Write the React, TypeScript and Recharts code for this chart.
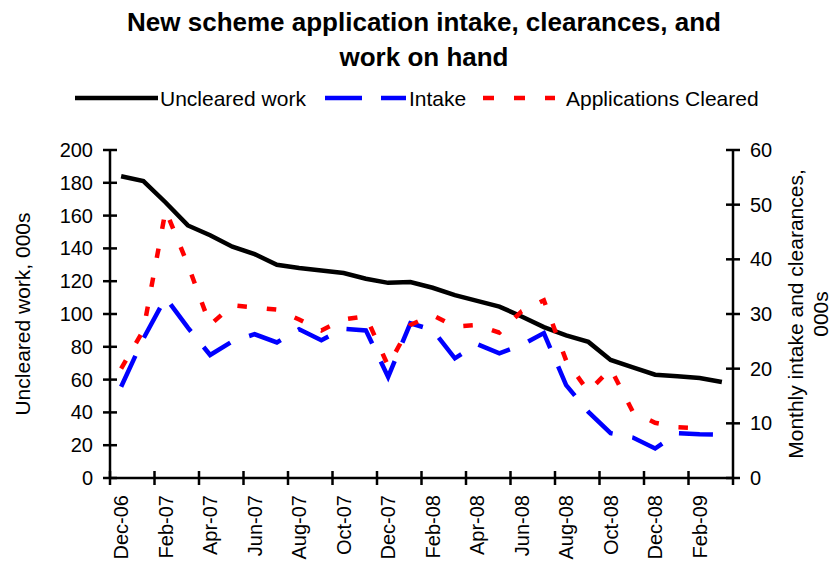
import { LineChart, Line, XAxis, YAxis } from 'recharts';

const months = [
  'Dec-06', 'Jan-07', 'Feb-07', 'Mar-07', 'Apr-07', 'May-07', 'Jun-07', 'Jul-07',
  'Aug-07', 'Sep-07', 'Oct-07', 'Nov-07', 'Dec-07', 'Jan-08', 'Feb-08', 'Mar-08',
  'Apr-08', 'May-08', 'Jun-08', 'Jul-08', 'Aug-08', 'Sep-08', 'Oct-08', 'Nov-08',
  'Dec-08', 'Jan-09', 'Feb-09', 'Mar-09',
];

// 000s, left axis
const uncleared = [
  184, 181, 168, 154, 148, 141, 136.5, 130, 128, 126.5, 125, 121.5, 119, 119.5,
  116, 111.5, 108, 104.5, 98.5, 92, 87, 83, 72, 67.5, 63, 62, 61, 58.5,
];

// 000s, right axis
const intake = [
  16.7, 25.5, 33, 27.5, 22.5, 25, 26.3, 24.8, 27.2, 25.2, 27.3, 27, 18.5, 28.3,
  27.1, 21.9, 24.5, 22.8, 24.3, 26.5, 17, 12.1, 8.2, 7.4, 5.4, 8.2, 8, 7.9,
];

const cleared = [
  20, 27, 49, 39, 28, 31.6, 31.2, 30.8, 29, 27, 29, 29.6, 20.5, 28,
  29.8, 27.7, 28, 26.6, 30.5, 32.5, 21.5, 15.8, 20, 12.1, 10.1, 9.3, 9.1, null,
];

const leftTicks = [0, 20, 40, 60, 80, 100, 120, 140, 160, 180, 200];
const rightTicks = [0, 10, 20, 30, 40, 50, 60];

const data = months.map((m, i) => ({
  month: m,
  uncleared: uncleared[i],
  intake: intake[i],
  cleared: cleared[i],
}));

const W = 840;
const H = 561;
const PLOT_L = 110;
const PLOT_R = 733;
const PLOT_T = 150;
const PLOT_B = 478;
const HALF = (PLOT_R - PLOT_L) / months.length / 2;
const FONT = '"Liberation Sans", Arial, sans-serif';
const AXIS_W = 2.5;

const XTick = ({ x, y, payload }: any) => (
  <g>
    <line x1={x - HALF} x2={x - HALF} y1={PLOT_B - 7} y2={PLOT_B + 7} stroke="#000" strokeWidth={AXIS_W} />
    {payload.index === months.length - 2 && (
      <line x1={PLOT_R} x2={PLOT_R} y1={PLOT_B} y2={PLOT_B + 7} stroke="#000" strokeWidth={AXIS_W} />
    )}
    <text
      transform={`translate(${x},${y}) rotate(-90)`}
      textAnchor="end"
      dominantBaseline="central"
      fontSize={20}
      fontFamily={FONT}
      fill="#000"
    >
      {payload.value}
    </text>
  </g>
);

const LeftTick = ({ x, y, payload }: any) => (
  <g>
    <line x1={PLOT_L - 7} x2={PLOT_L + 7} y1={y} y2={y} stroke="#000" strokeWidth={AXIS_W} />
    <text x={x} y={y} textAnchor="end" dominantBaseline="central" fontSize={20} fontFamily={FONT} fill="#000">
      {payload.value}
    </text>
  </g>
);

const RightTick = ({ x, y, payload }: any) => (
  <g>
    <line x1={PLOT_R - 7} x2={PLOT_R + 7} y1={y} y2={y} stroke="#000" strokeWidth={AXIS_W} />
    <text x={x} y={y} textAnchor="start" dominantBaseline="central" fontSize={20} fontFamily={FONT} fill="#000">
      {payload.value}
    </text>
  </g>
);

export default function App() {
  return (
    <div style={{ position: 'absolute', left: 0, top: 0, width: W, height: H, background: '#fff' }}>
      <LineChart width={W} height={H} data={data} margin={{ top: PLOT_T, right: 0, bottom: 0, left: 0 }}>
        <XAxis
          dataKey="month"
          height={H - PLOT_B}
          padding={{ left: HALF, right: HALF }}
          interval={1}
          tickSize={7}
          tickMargin={10}
          tickLine={false}
          axisLine={{ stroke: '#000', strokeWidth: AXIS_W }}
          tick={<XTick />}
        />
        <YAxis
          yAxisId="left"
          width={PLOT_L}
          domain={[0, 200]}
          ticks={leftTicks}
          tickSize={7}
          tickMargin={10}
          tickLine={false}
          axisLine={{ stroke: '#000', strokeWidth: AXIS_W }}
          tick={<LeftTick />}
        />
        <YAxis
          yAxisId="right"
          orientation="right"
          width={W - PLOT_R}
          domain={[0, 60]}
          ticks={rightTicks}
          tickSize={7}
          tickMargin={10}
          tickLine={false}
          axisLine={{ stroke: '#000', strokeWidth: AXIS_W }}
          tick={<RightTick />}
        />
        <Line
          yAxisId="left"
          type="linear"
          dataKey="uncleared"
          stroke="#000"
          strokeWidth={4.5}
          dot={false}
          isAnimationActive={false}
        />
        <Line
          yAxisId="right"
          type="linear"
          dataKey="intake"
          stroke="#0000FF"
          strokeWidth={4.5}
          strokeDasharray="34 20"
          dot={false}
          isAnimationActive={false}
        />
        <Line
          yAxisId="right"
          type="linear"
          dataKey="cleared"
          stroke="#FF0000"
          strokeWidth={4.5}
          strokeDasharray="9.5 20"
          dot={false}
          isAnimationActive={false}
        />
      </LineChart>

      {/* title, legend and axis titles */}
      <svg
        width={W}
        height={H}
        style={{ position: 'absolute', left: 0, top: 0, pointerEvents: 'none' }}
        fontFamily={FONT}
      >
        <text x={424} y={31} textAnchor="middle" fontSize={26} fontWeight="bold">
          New scheme application intake, clearances, and
        </text>
        <text x={424} y={66} textAnchor="middle" fontSize={26} fontWeight="bold">
          work on hand
        </text>

        <line x1={75} x2={158} y1={98} y2={98} stroke="#000" strokeWidth={4.5} />
        <text x={160} y={106} fontSize={21}>Uncleared work</text>
        <line x1={325} x2={406} y1={98} y2={98} stroke="#0000FF" strokeWidth={4.5} strokeDasharray="37 19" />
        <text x={409} y={106} fontSize={21}>Intake</text>
        <line x1={483} x2={555} y1={98} y2={98} stroke="#FF0000" strokeWidth={4.5} strokeDasharray="11 20" />
        <text x={566} y={106} fontSize={21}>Applications Cleared</text>

        <text
          transform={`translate(22,${(PLOT_T + PLOT_B) / 2}) rotate(-90)`}
          textAnchor="middle"
          dominantBaseline="central"
          fontSize={21}
        >
          Uncleared work, 000s
        </text>
        <text
          transform={`translate(795,${(PLOT_T + PLOT_B) / 2}) rotate(-90)`}
          textAnchor="middle"
          dominantBaseline="central"
          fontSize={21}
        >
          Monthly intake and clearances,
        </text>
        <text
          transform={`translate(820,${(PLOT_T + PLOT_B) / 2}) rotate(-90)`}
          textAnchor="middle"
          dominantBaseline="central"
          fontSize={21}
        >
          000s
        </text>
      </svg>
    </div>
  );
}
